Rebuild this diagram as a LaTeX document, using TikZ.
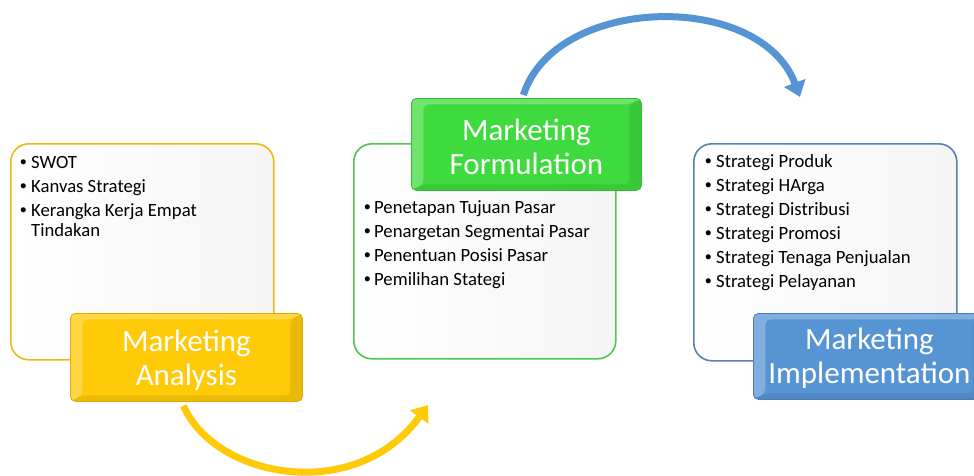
\documentclass[tikz,border=0pt]{standalone}
\usepackage{fontspec}
\setmainfont{Carlito}
\newfontfamily\bulletfont{Liberation Sans}
\usetikzlibrary{arrows.meta,positioning}
\definecolor{anaYellow}{RGB}{255,202,8}
\definecolor{anaEdge}{RGB}{236,186,22}
\definecolor{forGreen}{RGB}{62,218,62}
\definecolor{forEdge}{RGB}{80,198,80}
\definecolor{impBlue}{RGB}{86,148,212}
\definecolor{impEdge}{RGB}{88,128,184}
\newcommand{\titlesize}{\fontsize{31}{34}\selectfont}
\newcommand{\itemsize}{\fontsize{18.7}{24}\selectfont}
\newcommand{\itembul}[1]{\makebox[#1][l]{\bulletfont\textbullet}}
\tikzset{
  listbox/.style={draw=#1, line width=1.6pt, rounded corners=18pt,
    left color=white, middle color=white, right color=black!4,
    anchor=north west, inner sep=0pt},
  titlebox/.style={fill=#1, draw=#1!85!black, line width=.8pt, rounded corners=5pt,
    text=white, font=\titlesize, align=center, anchor=north west, inner sep=0pt,
    path picture={
      \path (path picture bounding box.north west) coordinate (pNW)
            (path picture bounding box.north east) coordinate (pNE)
            (path picture bounding box.south west) coordinate (pSW)
            (path picture bounding box.south east) coordinate (pSE);
      \fill[white,opacity=.25] (pNW) -- (pNE) -- ([shift={(-12pt,-6pt)}]pNE)
        -- ([shift={(12pt,-6pt)}]pNW) -- ([shift={(12pt,6pt)}]pSW) -- (pSW) -- cycle;
      \fill[black,opacity=.08] (pSE) -- (pSW) -- ([shift={(12pt,6pt)}]pSW)
        -- ([shift={(-12pt,6pt)}]pSE) -- ([shift={(-12pt,-6pt)}]pNE) -- (pNE) -- cycle;
    }},
  item/.style={anchor=base west, inner sep=0pt, font=\itemsize},
  flowarrow/.style={draw=#1, line width=7pt, -{Triangle[length=15pt,width=22pt]}}
}

\begin{document}
\begin{tikzpicture}[x=1pt,y=-1pt]
\useasboundingbox (0,0) rectangle (974,475);

% list boxes
\node[listbox=anaEdge, minimum width=263pt, minimum height=216pt] (b1) at (10,143) {};
\node[listbox=forEdge, minimum width=262pt, minimum height=215pt] (b2) at (353,143) {};
\node[listbox=impEdge, minimum width=263pt, minimum height=217pt] (b3) at (693,143) {};

% bullet items
\foreach \txt [count=\i from 0] in {SWOT,Kanvas Strategi,Kerangka Kerja Empat}
  \node[item] (a\i) at (20,{168+24*\i}) {\itembul{11pt}\txt};
\node[item] (a3) at (31,236) {Tindakan};
\foreach \txt [count=\i from 0] in {Penetapan Tujuan Pasar,Penargetan Segmentai Pasar,
    Penentuan Posisi Pasar,Pemilihan Stategi}
  \node[item] (f\i) at (364,{213+24*\i}) {\itembul{10pt}\txt};
\foreach \txt [count=\i from 0] in {Strategi Produk,Strategi HArga,Strategi Distribusi,
    Strategi Promosi,Strategi Tenaga Penjualan,Strategi Pelayanan}
  \node[item] (m\i) at (705,{167+24*\i}) {\itembul{11pt}\txt};

% title boxes
\node[titlebox=anaYellow, minimum width=232pt, minimum height=88pt] (t1) at (70,313) {\rule{0pt}{27pt}Marketing\\Analysis};
\node[titlebox=forGreen, minimum width=230pt, minimum height=92pt] (t2) at (411,98) {\rule{0pt}{26pt}Marketing\\Formulation};
\node[titlebox=impBlue, minimum width=232pt, minimum height=86pt] (t3) at (753,313) {\rule{0pt}{26pt}Marketing\\Implementation};

% curved arrows
\coordinate (e1) at (428,405);
\coordinate (e2) at (800,97);
\draw[flowarrow=anaYellow] ([xshift=-3pt,yshift=-4pt]t1.south) .. controls (215,478) and (355,505) .. (e1);
\draw[flowarrow=impBlue] ([xshift=-3pt,yshift=3pt]t2.north) .. controls (555,-5) and (760,-10) .. (e2);
\end{tikzpicture}
\end{document}
